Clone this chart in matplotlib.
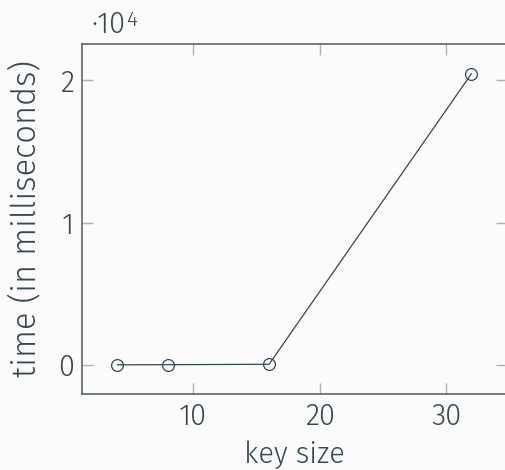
import matplotlib.pyplot as plt
from matplotlib.ticker import FuncFormatter

# key size vs time (ms)
key_size = [4, 8, 16, 32]
time_ms = [2, 10, 40, 20450]

x_ticks = [10, 20, 30]
y_ticks = [0, 10000, 20000]

txt = '#37474f'
tick_col = '#b0b0b0'
bg = '#fbfbfb'

plt.rcParams['font.family'] = ['Fira Sans', 'DejaVu Sans']
plt.rcParams['font.weight'] = 300

fig = plt.figure(figsize=(5.05, 4.7), dpi=100, facecolor=bg)
ax = fig.add_axes([0.1624, 0.1617, 0.8410, 0.7447], facecolor=bg)

ax.plot(key_size, time_ms, color=txt, lw=0.9, marker='o', markersize=8.5,
        markerfacecolor='none', markeredgecolor=txt, markeredgewidth=0.9)

ax.set_xlim(1.2, 34.8)
ax.set_ylim(-2050, 22550)
ax.set_xticks(x_ticks)
ax.set_yticks(y_ticks)
ax.yaxis.set_major_formatter(FuncFormatter(lambda v, p: f'{v / 1e4:g}'))

ax.tick_params(direction='in', length=8, width=1, color=tick_col,
               labelsize=21, labelcolor=txt, top=True, right=True, pad=6)
for s in ax.spines.values():
    s.set_color('#4a5a60')
    s.set_linewidth(1.1)

ax.set_xlabel('key size', fontsize=21, color=txt, fontweight=300, labelpad=7)
ax.set_ylabel('time (in milliseconds)', fontsize=23.5, color=txt, fontweight=300, labelpad=11)

# scale factor above the y axis
fig.text(0.180, 0.930, '·10', fontsize=21, color=txt, ha='left', va='baseline')
fig.text(0.2505, 0.945, '4', fontsize=15, color=txt, ha='left', va='baseline')

fig.savefig('out.png', dpi=100, facecolor=bg)
